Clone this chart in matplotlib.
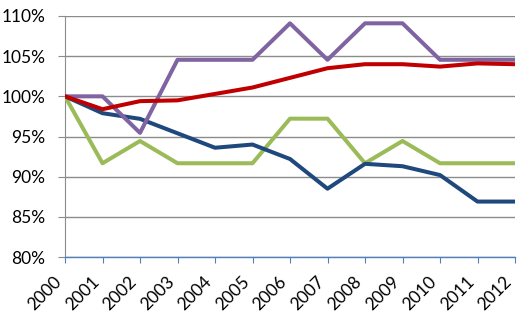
import matplotlib
matplotlib.use("Agg")
import matplotlib.pyplot as plt
from matplotlib.ticker import FuncFormatter

years = list(range(2000, 2013))
blue = [100, 97.9, 97.2, 95.4, 93.6, 94.0, 92.2, 88.5, 91.6, 91.3, 90.2, 86.9, 86.9]
red = [100, 98.4, 99.4, 99.5, 100.3, 101.1, 102.3, 103.5, 104.0, 104.0, 103.7, 104.1, 104.0]
green = [100, 91.67, 94.44, 91.67, 91.67, 91.67, 97.22, 97.22, 91.67, 94.44, 91.67, 91.67, 91.67]
purple = [100, 100, 95.45, 104.55, 104.55, 104.55, 109.09, 104.55, 109.09, 109.09, 104.55, 104.55, 104.55]
yticks = [80, 85, 90, 95, 100, 105, 110]

plt.rcParams['font.family'] = ['Lato', 'DejaVu Sans']

fig = plt.figure(figsize=(5.22, 3.12), dpi=100)
ax = fig.add_axes([65/522, 1-257/312, (515-65)/522, 241/312])

lw = 2.9
ax.plot(years, green, color='#9BBB59', lw=lw, zorder=3)
ax.plot(years, blue, color='#1F497D', lw=lw, zorder=4)
ax.plot(years, purple, color='#8064A2', lw=lw, zorder=5)
ax.plot(years, red, color='#C00000', lw=lw, zorder=6)

ax.set_xlim(2000, 2012)
ax.set_ylim(80, 110)
ax.set_yticks(yticks)
ax.yaxis.set_major_formatter(FuncFormatter(lambda v, p: f"{int(v)}%"))
ax.set_xticks(years)
ax.set_xticklabels([str(y) for y in years], rotation=45, ha='right', va='top',
                   rotation_mode='default')
ax.grid(axis='y', color='#8C8C8C', lw=1.0)
ax.set_axisbelow(True)
for s in ['top', 'right']:
    ax.spines[s].set_visible(False)
ax.spines['left'].set_color('#8C8C8C')
ax.spines['bottom'].set_color('#4F81BD')
ax.spines['bottom'].set_linewidth(1.0)
ax.tick_params(axis='y', length=5, color='#8C8C8C', labelsize=12.5, pad=9, labelcolor='#000000')
ax.tick_params(axis='x', length=4, color='#4F81BD', labelsize=12.5, pad=8, labelcolor='#000000')

fig.savefig('out.png', dpi=100)
